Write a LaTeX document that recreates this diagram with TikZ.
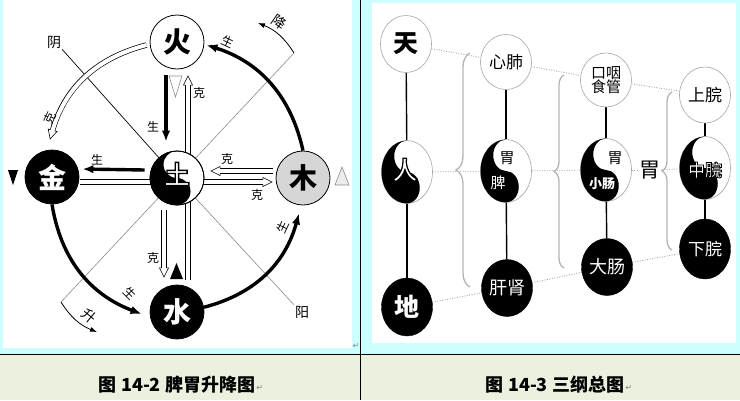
\documentclass[tikz,border=0pt]{standalone}
\usepackage{fontspec}
\usetikzlibrary{arrows.meta,calc,shapes.geometric,decorations.pathreplacing}
\newfontfamily\cjk{Noto Sans CJK SC}
\newfontfamily\cjkol[FakeBold=5]{Noto Sans CJK SC Bold}
\newfontfamily\djv{DejaVu Sans}
\definecolor{cyanbg}{HTML}{CCFFFF}
\definecolor{greenbg}{HTML}{EBF1DE}
\definecolor{mugray}{HTML}{D6D6D6}
\definecolor{linegray}{HTML}{8C8C8C}
\definecolor{dotgray}{HTML}{A6A6A6}
\definecolor{bracegray}{HTML}{B4B4B4}
\newcommand\fsz[1]{\fontsize{#1}{#1}\selectfont}
\newcommand\yinyang[3]{%
  \fill[black] ($(#1)+(0,#3)$) arc[start angle=90,end angle=270,x radius=#2,y radius=#3]
    arc[start angle=-90,end angle=90,x radius=#2/2,y radius=#3/2]
    arc[start angle=270,end angle=90,x radius=#2/2,y radius=#3/2] -- cycle;}
\newcommand\olt[1]{\special{pdf:bc [1 1 1] [0 0 0]}#1\special{pdf:ec}}
\pgfdeclarelayer{back}
\pgfdeclarelayer{lines}
\pgfsetlayers{back,lines,main}
\begin{document}
\begin{tikzpicture}[x=1pt,y=1pt,
  elem/.style={circle,minimum size=54pt,inner sep=0pt,draw=black,line width=0.8pt,font=\cjk\bfseries\fsz{28}},
  lbl/.style={inner sep=1pt,font=\cjk\fsz{12}},
  lbl2/.style={inner sep=1pt,font=\cjk\fsz{14}},
  outl/.style={inner sep=0pt},
  sheng/.style={line width=3.4pt,-{Latex[length=11pt,width=8.5pt]}},
  hollow/.style={white,line width=0.6pt,-{Triangle[length=10pt,width=10pt,color=black,fill=white,line width=0.6pt]},
    preaction={draw=black,line width=5.4pt,shorten >=9pt,-},
    postaction={draw=white,line width=4pt,shorten >=7.5pt,-}},
  thinarrow/.style={line width=0.8pt,-{Latex[length=7pt,width=5pt]}},
  diag/.style={linegray,line width=0.6pt},
  wnode/.style={ellipse,minimum width=51pt,minimum height=57pt,inner sep=0pt,fill=white,draw=dotgray,line width=0.6pt},
  bnode/.style={ellipse,minimum width=51pt,minimum height=58pt,inner sep=0pt,fill=black,draw=black,text=white},
  ynode/.style={ellipse,minimum width=51pt,minimum height=63pt,inner sep=0pt,fill=white,draw=dotgray,line width=0.6pt},
  vline/.style={line width=1.4pt,black},
  dotline/.style={dotgray,line width=0.9pt,dash pattern=on 0.9pt off 1.6pt},
  bracestyle/.style={bracegray,line width=1.3pt,decorate},
  retmark/.style={inner sep=0pt,text=gray,font=\djv\fsz{8}}
]
\useasboundingbox (0,0) rectangle (740,-400);
\begin{pgfonlayer}{back}
\fill[cyanbg] (0,0) rectangle (740,-354);
\fill[greenbg] (0,-354) rectangle (740,-400);
\fill[white] (3,0) rectangle (352,-348);
\fill[white] (372,-3) rectangle (736,-343);
\draw[line width=0.8pt] (0,-354) -- (740,-354);
\draw[line width=0.8pt] (360,0) -- (360,-400);
\end{pgfonlayer}

% ---------------- left diagram: nodes ----------------
\node[elem,fill=white] (huo) at (177,-42) {火};
\node[elem,fill=black,text=white] (jin) at (52,-177) {金};
\node[elem,fill=mugray] (mu) at (303,-178) {木};
\node[elem,fill=black,text=white] (shui) at (177,-312) {水};
\node[elem,fill=white] (tu) at (177,-178) {};
\yinyang{tu}{27}{27}
\draw[line width=0.8pt] (tu.center) circle[radius=27];
\node[outl,font=\cjkol\fsz{26}] (tutext) at (177,-174) {\olt{土}};

% labels
\node[lbl2] (yinl) at (54,-42) {阴};
\node[lbl2] (yangl) at (302,-312) {阳};
\node[lbl2,rotate=-35] (jiangl) at (279,-22) {降};
\node[lbl2,rotate=-40] (shengl) at (89,-316) {升};
\node[lbl,rotate=-25] (s1) at (228,-42) {生};
\node[lbl,rotate=65] (s2) at (283,-227) {生};
\node[lbl,rotate=-45] (s3) at (130,-293) {生};
\node[lbl] (s4) at (153,-127) {生};
\node[lbl] (s5) at (97,-160) {生};
\node[lbl,rotate=65] (k1) at (50,-118) {克};
\node[lbl] (k2) at (199,-93) {克};
\node[lbl] (k3) at (227,-159) {克};
\node[lbl] (k4) at (257,-195) {克};
\node[lbl] (k5) at (153,-258) {克};
\coordinate (jiangp) at (294,-53);
\coordinate (jiange) at (258,-23);
\coordinate (shengp) at (61,-302);
\coordinate (shenge) at (97,-332);

% triangles
\fill[black] (8,-170) -- (18,-170) -- (13,-185) -- cycle;
\fill[black] (170,-279) -- (183,-279) -- (176.5,-263) -- cycle;
\draw[linegray,fill=white,line width=0.6pt] (169,-76) -- (182,-76) -- (175.5,-97) -- cycle;
\draw[linegray,fill=gray!15,line width=0.6pt] (335,-185) -- (349,-185) -- (342,-167) -- cycle;

\begin{pgfonlayer}{lines}
\draw[black,line width=0.7pt] (yinl.south east) -- (tu.center);
\draw[diag] (tu.center) -- (yangl.north west);
\draw[diag] (tu.center) -- (jiangp);
\draw[diag] (tu.center) -- (shengp);
\draw[thinarrow] (jiangp) to[bend right=18] (jiange);
\draw[thinarrow] (shengp) to[bend right=18] (shenge);
% sheng (generating) arrows
\draw[sheng] (mu.north) to[bend right=30] ([shift={(2,-3)}]huo.east);
\draw[sheng] (shui.10) to[bend right=30] ([shift={(-4,-8)}]mu.south);
\draw[sheng] (jin.south) to[bend right=30] ([shift={(-8,-2)}]shui.west);
\draw[sheng] ([shift={(-11,-6)}]huo.south) -- ([shift={(-11,9)}]tu.north);
\draw[sheng] ([shift={(-5,8)}]tu.west) -- ([shift={(3,8)}]jin.east);
% ke (restraining) hollow arrows
\draw[hollow] ([shift={(-3,-3)}]huo.west) to[bend right=30] ([shift={(-2,10)}]jin.north);
\draw[hollow] ([shift={(11,5)}]shui.north) -- ([shift={(11,-6)}]huo.south);
\draw[hollow] ([shift={(-13,-5)}]tu.south) -- ([shift={(-13,7)}]shui.north);
\draw[hollow] ([shift={(-3,7)}]mu.west) -- ([shift={(6,7)}]tu.east);
\draw[hollow] ([shift={(1,-5)}]jin.east) -- ([shift={(-3,-4)}]mu.west);
\end{pgfonlayer}

% ---------------- right diagram ----------------
\node[wnode,font=\cjk\bfseries\fsz{25}] (tian) at (406,-44) {天};
\node[ynode] (ren) at (407,-172) {};
\yinyang{ren}{25.5}{31.5}
\node[outl,font=\cjkol\fsz{25}] (rentext) at (405,-170) {\olt{人}};
\node[bnode,font=\cjk\bfseries\fsz{25}] (di) at (407,-307) {地};

\node[wnode,minimum height=55pt,font=\cjk\fsz{17}] (xinfei) at (506,-62) {心肺};
\node[ynode] (piwei) at (506,-171) {};
\yinyang{piwei}{25.5}{31.5}
\node[inner sep=0pt,font=\cjk\fsz{15}] (wei1) at (507,-158) {胃};
\node[inner sep=0pt,text=white,font=\cjk\fsz{15}] (pi) at (498,-183) {脾};
\node[bnode,minimum height=57pt,font=\cjk\fsz{18}] (ganshen) at (507,-288) {肝肾};

\node[wnode,minimum height=54pt,align=center,font=\cjk\fsz{15}] (yanguan) at (606,-80) {口咽\\[-1pt]食管};
\node[ynode] (weixc) at (606,-170) {};
\yinyang{weixc}{25.5}{31.5}
\node[inner sep=0pt,font=\cjk\fsz{15}] (wei2) at (615,-158) {胃};
\node[inner sep=0pt,text=white,font=\cjk\bfseries\fsz{13}] (xc) at (602,-184) {小肠};
\node[bnode,minimum height=57pt,font=\cjk\fsz{18}] (dachang) at (607,-267) {大肠};

\node[wnode,minimum height=56pt,font=\cjk\fsz{17}] (shangwan) at (705,-95) {上脘};
\node[ynode] (zhongwan) at (705,-168) {};
\yinyang{zhongwan}{25.5}{31.5}
\node[outl,font=\cjkol\fsz{17}] (zwtext) at (705,-170) {\olt{中脘}};
\node[bnode,minimum height=60pt,font=\cjk\fsz{17}] (xiawan) at (705,-249) {下脘};

\node[inner sep=1pt,font=\cjk\fsz{21}] (weil) at (650,-170) {胃};

\begin{pgfonlayer}{lines}
\draw[vline] (tian) -- (ren);
\draw[vline] (ren) -- (di);
\draw[vline] (xinfei) -- (piwei);
\draw[vline] (piwei) -- (ganshen);
\draw[vline] (yanguan) -- (weixc);
\draw[vline] (weixc) -- (dachang);
\draw[vline] (shangwan) -- (zhongwan);
\draw[vline] (zhongwan) -- (xiawan);
\draw[dotline] (tian) -- (xinfei);
\draw[dotline] (xinfei) -- (yanguan);
\draw[dotline] (yanguan) -- (shangwan);
\draw[dotline] (ren) -- (piwei);
\draw[dotline] (piwei) -- (weixc);
\draw[dotline] (weixc) -- (weil);
\draw[dotline] (weil) -- (zhongwan);
\draw[dotline] (di) -- (ganshen);
\draw[dotline] (ganshen) -- (dachang);
\draw[dotline] (dachang) -- (xiawan);
\draw[bracestyle,decoration={brace,amplitude=14pt}] (470,-287) -- (470,-53);
\draw[bracestyle,decoration={brace,amplitude=10pt}] (564,-268) -- (564,-75);
\draw[bracestyle,decoration={brace,amplitude=10pt}] (672,-250) -- (672,-92);
\end{pgfonlayer}

% ---------------- captions ----------------
\node[inner sep=0pt,font=\cjk\bfseries\fsz{18}] (cap1) at (177,-385) {图 14-2 脾胃升降图};
\node[retmark,anchor=west] (ret1) at ([shift={(1,-3)}]cap1.east) {↵};
\node[inner sep=0pt,font=\cjk\bfseries\fsz{18}] (cap2) at (555,-385) {图 14-3 三纲总图};
\node[retmark,anchor=west] (ret2) at ([shift={(1,-3)}]cap2.east) {↵};
\node[retmark] (ret0) at (356,-346) {↵};
\end{tikzpicture}
\end{document}
